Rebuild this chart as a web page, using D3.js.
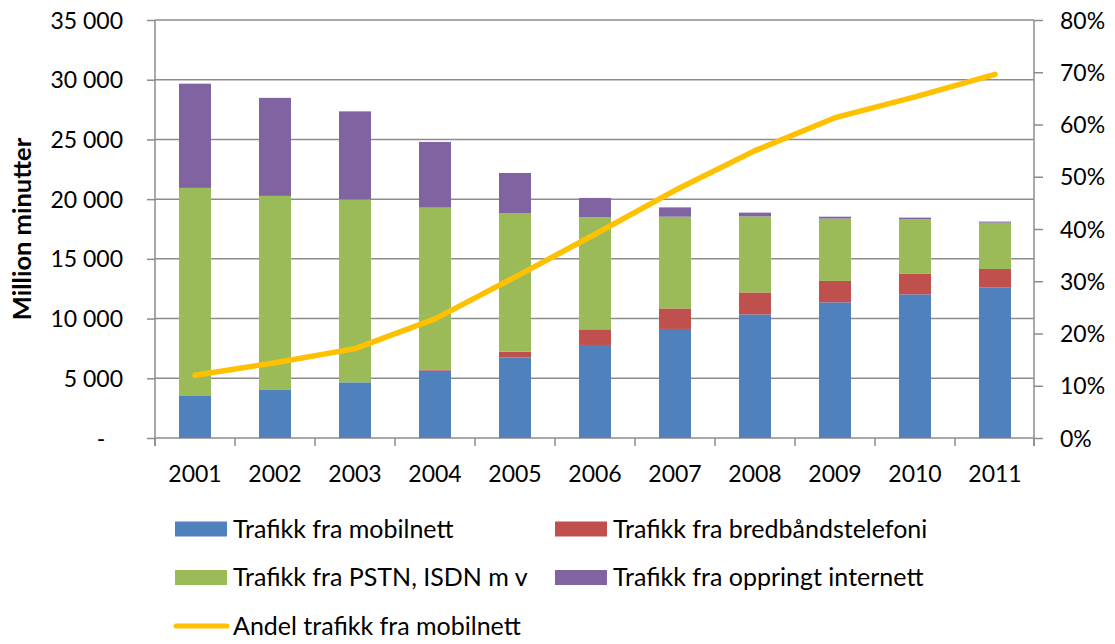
<!DOCTYPE html>
<html>
<head>
<meta charset="utf-8">
<script src="https://cdn.jsdelivr.net/npm/d3@7"></script>
<style>
  body { margin: 0; background: #fff; }
  text { font-family: Lato, "Noto Sans", sans-serif; fill: #000; }
</style>
</head>
<body>
<div id="chart"></div>
<script>
// values (million minutes, share as fraction)
const years = ["2001", "2002", "2003", "2004", "2005", "2006", "2007", "2008", "2009", "2010", "2011"];
const mobilnett = [3570, 4070, 4660, 5640, 6750, 7790, 9130, 10350, 11360, 12030, 12590];
const bredband = [0, 0, 0, 60, 480, 1310, 1720, 1840, 1790, 1710, 1560];
const pstn = [17370, 16200, 15320, 13590, 11610, 9380, 7680, 6370, 5220, 4570, 3880];
const oppringt = [8730, 8210, 7370, 5500, 3350, 1620, 780, 310, 160, 140, 90];
const andelMobil = [0.120, 0.144, 0.171, 0.228, 0.308, 0.390, 0.474, 0.550, 0.613, 0.653, 0.696];

const leftTicks = [0, 5000, 10000, 15000, 20000, 25000, 30000, 35000];
const rightTicks = [0, 0.1, 0.2, 0.3, 0.4, 0.5, 0.6, 0.7, 0.8];

const seriesNames = ["Trafikk fra mobilnett", "Trafikk fra bredbåndstelefoni", "Trafikk fra PSTN, ISDN m v", "Trafikk fra oppringt internett"];
const lineName = "Andel trafikk fra mobilnett";
const colors = ["#4F81BD", "#C0504D", "#9BBB59", "#8064A2"];
const lineColor = "#FFC000";
const gridColor = "#8c8c8c";

const w = 1115, h = 644;
const plot = { left: 155, right: 1035, top: 20, bottom: 438 };

const svg = d3.select("#chart").append("svg")
    .attr("width", w)
    .attr("height", h);

const keys = ["mob", "bred", "pstn", "opp"];
const table = years.map((y, i) => ({
  year: y, mob: mobilnett[i], bred: bredband[i], pstn: pstn[i], opp: oppringt[i]
}));
const stacked = d3.stack().keys(keys)(table);

const x = d3.scaleBand()
    .domain(years)
    .range([plot.left, plot.right])
    .paddingInner(0.6)
    .paddingOuter(0.3);

const y = d3.scaleLinear().domain([0, 35000]).range([plot.bottom, plot.top]);
const y2 = d3.scaleLinear().domain([0, 0.8]).range([plot.bottom, plot.top]);

const nf = d3.formatLocale({ decimal: ",", thousands: "\u00a0", grouping: [3], currency: ["", ""] }).format(",.0f");

// gridlines
svg.append("g")
  .selectAll("line")
  .data(leftTicks.filter(d => d > 0))
  .join("line")
    .attr("x1", plot.left).attr("x2", plot.right - 1)
    .attr("y1", d => y(d)).attr("y2", d => y(d))
    .attr("stroke", gridColor)
    .attr("stroke-width", 1.5);

// left axis
const yAxis = d3.axisLeft(y)
    .tickValues(leftTicks)
    .tickSize(8)
    .tickPadding(24)
    .tickFormat(d => d === 0 ? "-\u00a0\u00a0\u00a0" : nf(d));

const gy = svg.append("g")
    .attr("transform", `translate(${plot.left},0)`)
    .call(yAxis);
gy.select(".domain").remove();
gy.selectAll(".tick line").attr("stroke", gridColor).attr("stroke-width", 1.5);
gy.selectAll(".tick text").attr("font-size", 23).attr("dy", "0.35em");

svg.append("line")
    .attr("x1", plot.left).attr("x2", plot.left)
    .attr("y1", plot.top).attr("y2", plot.bottom + 8)
    .attr("stroke", gridColor).attr("stroke-width", 1.5);

// right axis
const y2Axis = d3.axisRight(y2)
    .tickValues(rightTicks)
    .tickSize(9)
    .tickPadding(17)
    .tickFormat(d3.format(".0%"));

const gy2 = svg.append("g")
    .attr("transform", `translate(${plot.right - 1},0)`)
    .call(y2Axis);
gy2.select(".domain").remove();
gy2.selectAll(".tick line").attr("stroke", gridColor).attr("stroke-width", 1.5);
gy2.selectAll(".tick text").attr("font-size", 23).attr("dy", "0.35em");

svg.append("line")
    .attr("x1", plot.right - 1).attr("x2", plot.right - 1)
    .attr("y1", plot.top).attr("y2", plot.bottom + 8)
    .attr("stroke", gridColor).attr("stroke-width", 1.5);

// bottom axis with ticks between categories
const boundaries = years.map(d => x(d) + x.bandwidth() / 2 - x.step() / 2).concat([plot.right - 1]);
svg.append("line")
    .attr("x1", plot.left).attr("x2", plot.right - 1)
    .attr("y1", plot.bottom).attr("y2", plot.bottom)
    .attr("stroke", gridColor).attr("stroke-width", 1.5);
svg.append("g")
  .selectAll("line")
  .data(boundaries)
  .join("line")
    .attr("x1", d => d).attr("x2", d => d)
    .attr("y1", plot.bottom).attr("y2", plot.bottom + 8)
    .attr("stroke", gridColor).attr("stroke-width", 1.5);
svg.append("g")
  .selectAll("text")
  .data(years)
  .join("text")
    .attr("x", d => x(d) + x.bandwidth() / 2)
    .attr("y", 482)
    .attr("text-anchor", "middle")
    .attr("font-size", 23)
    .text(d => d);

// bars
svg.append("g")
  .selectAll("g")
  .data(stacked)
  .join("g")
    .attr("fill", (d, i) => colors[i])
  .selectAll("rect")
  .data(d => d)
  .join("rect")
    .attr("x", d => x(d.data.year))
    .attr("y", d => y(d[1]))
    .attr("width", x.bandwidth())
    .attr("height", d => y(d[0]) - y(d[1]));

// share line
const line = d3.line()
    .x((d, i) => x(years[i]) + x.bandwidth() / 2)
    .y(d => y2(d));
svg.append("path")
    .datum(andelMobil)
    .attr("d", line)
    .attr("fill", "none")
    .attr("stroke", lineColor)
    .attr("stroke-width", 5.5)
    .attr("stroke-linecap", "round")
    .attr("stroke-linejoin", "round");

// y axis title
svg.append("text")
    .attr("transform", `translate(31,${(plot.top + plot.bottom) / 2}) rotate(-90)`)
    .attr("text-anchor", "middle")
    .attr("font-size", 25.5)
    .attr("font-weight", "bold")
    .text("Million minutter");

// legend
const legendItems = [
  { name: seriesNames[0], color: colors[0], x: 175, y: 529 },
  { name: seriesNames[1], color: colors[1], x: 555, y: 529 },
  { name: seriesNames[2], color: colors[2], x: 175, y: 577.5 },
  { name: seriesNames[3], color: colors[3], x: 555, y: 577.5 }
];
const lg = svg.append("g");
lg.selectAll("rect")
  .data(legendItems)
  .join("rect")
    .attr("x", d => d.x)
    .attr("y", d => d.y - 7.5)
    .attr("width", 52)
    .attr("height", 15)
    .attr("fill", d => d.color);
lg.selectAll("text.item")
  .data(legendItems)
  .join("text")
    .attr("class", "item")
    .attr("x", d => d.x + 58)
    .attr("y", d => d.y)
    .attr("dy", "0.35em")
    .attr("font-size", 25)
    .text(d => d.name);

lg.append("line")
    .attr("x1", 176).attr("x2", 227)
    .attr("y1", 626).attr("y2", 626)
    .attr("stroke", lineColor)
    .attr("stroke-width", 5)
    .attr("stroke-linecap", "round");
lg.append("text")
    .attr("x", 233)
    .attr("y", 626)
    .attr("dy", "0.35em")
    .attr("font-size", 25)
    .text(lineName);
</script>
</body>
</html>
